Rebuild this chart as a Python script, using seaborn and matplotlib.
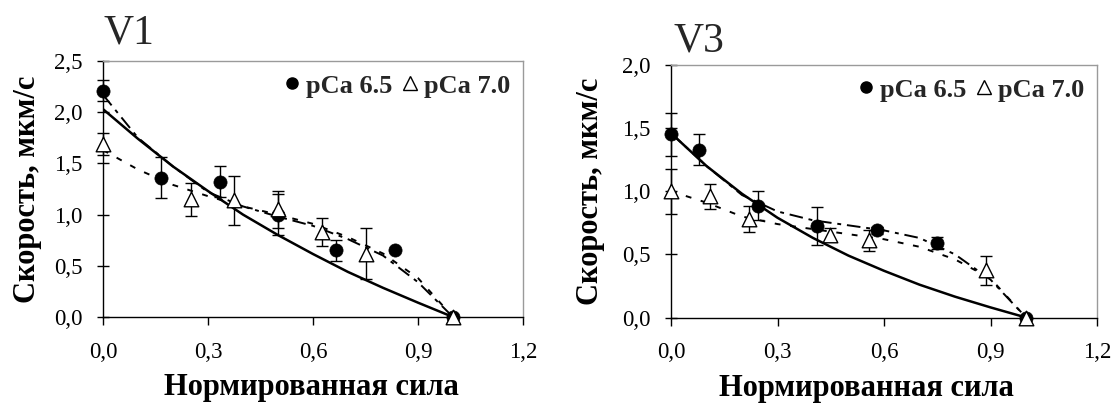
import numpy as np
import pandas as pd
import matplotlib
matplotlib.use("Agg")
import matplotlib.pyplot as plt
from matplotlib.ticker import FuncFormatter, MultipleLocator
from matplotlib.lines import Line2D
import seaborn as sns

# ---------------- data ----------------
# V1
v1_x65 = [0.0, 0.167, 0.333, 0.5, 0.667, 0.833, 1.0]
v1_y65 = [2.21, 1.36, 1.32, 1.00, 0.65, 0.65, 0.0]
v1_e65 = [0.10, 0.20, 0.15, 0.20, 0.10, 0.0, 0.0]
v1_x70 = [0.0, 0.25, 0.375, 0.5, 0.625, 0.75, 1.0]
v1_y70 = [1.69, 1.15, 1.14, 1.05, 0.83, 0.62, 0.0]
v1_e70 = [0.11, 0.16, 0.24, 0.18, 0.14, 0.25, 0.0]
v1_cx = [0.0, 0.1, 0.2, 0.3, 0.4, 0.5, 0.6, 0.7, 0.8, 0.9, 1.0]
v1_solid = [2.03, 1.74, 1.47, 1.23, 1.00, 0.80, 0.615, 0.44, 0.285, 0.14, 0.0]
v1_dash65 = [2.17, 1.75, 1.47, 1.22, 1.08, 0.98, 0.89, 0.76, 0.60, 0.34, 0.0]
v1_dash70 = [1.63, 1.44, 1.29, 1.18, 1.08, 1.00, 0.91, 0.78, 0.62, 0.38, 0.0]

# V3
v3_x65 = [0.0, 0.08, 0.246, 0.412, 0.58, 0.75, 1.0]
v3_y65 = [1.45, 1.33, 0.886, 0.727, 0.69, 0.59, 0.0]
v3_e65 = [0.17, 0.12, 0.115, 0.15, 0.03, 0.05, 0.0]
v3_x70 = [0.0, 0.11, 0.22, 0.447, 0.557, 0.888, 1.0]
v3_y70 = [1.00, 0.96, 0.78, 0.655, 0.61, 0.376, 0.0]
v3_e70 = [0.18, 0.10, 0.10, 0.05, 0.08, 0.115, 0.0]
v3_cx = [0.0, 0.1, 0.2, 0.3, 0.4, 0.5, 0.6, 0.7, 0.8, 0.9, 1.0]
v3_solid = [1.46, 1.20, 0.98, 0.79, 0.63, 0.49, 0.37, 0.26, 0.165, 0.08, 0.0]
v3_dash65 = [1.46, 1.20, 0.97, 0.84, 0.77, 0.73, 0.69, 0.63, 0.50, 0.30, 0.0]
v3_dash70 = [1.00, 0.91, 0.80, 0.74, 0.70, 0.66, 0.62, 0.56, 0.46, 0.31, 0.0]

titles = ["V1", "V3"]
xticks = [0.0, 0.3, 0.6, 0.9, 1.2]
xlabel = "Нормированная сила"
ylabel = "Скорость, мкм/с"
leg_labels = ["pCa 6.5", "pCa 7.0"]

# ---------------- style ----------------
sns.set_style("ticks")
plt.rcParams['font.family'] = ['Liberation Serif', 'DejaVu Serif']

W, H = 1114, 403
fig = plt.figure(figsize=(W / 100, H / 100), dpi=100)
ax1 = fig.add_axes([103 / W, 1 - 317 / H, 420 / W, 256 / H])
ax2 = fig.add_axes([671 / W, 1 - 317.5 / H, 426 / W, 252.5 / H])

panels = [
    (ax1, v1_x65, v1_y65, v1_e65, v1_x70, v1_y70, v1_e70, v1_cx, v1_solid, v1_dash65, v1_dash70, 2.5),
    (ax2, v3_x65, v3_y65, v3_e65, v3_x70, v3_y70, v3_e70, v3_cx, v3_solid, v3_dash65, v3_dash70, 2.0),
]

fmt = FuncFormatter(lambda v, p: f"{v:.1f}".replace('.', ','))

for i, (ax, x65, y65, e65, x70, y70, e70, cx, solid, d65, d70, ymax) in enumerate(panels):
    sns.lineplot(x=cx, y=solid, ax=ax, color='black', lw=1.8, sort=False, estimator=None, zorder=2)
    sns.lineplot(x=cx, y=d65, ax=ax, color='black', lw=1.4, sort=False, estimator=None,
                 linestyle=(0, (7, 3, 2, 3)), zorder=2)
    sns.lineplot(x=cx, y=d70, ax=ax, color='black', lw=1.4, sort=False, estimator=None,
                 linestyle=(0, (3, 5)), zorder=2)
    ax.errorbar(x65, y65, yerr=e65, fmt='none', ecolor='black', elinewidth=1.0,
                capsize=4, capthick=1.0, zorder=3, clip_on=False)
    ax.errorbar(x70, y70, yerr=e70, fmt='none', ecolor='black', elinewidth=1.0,
                capsize=4, capthick=1.0, zorder=3, clip_on=False)
    sns.scatterplot(x=x65, y=y65, ax=ax, marker='o', s=90, color='black',
                    edgecolor='black', linewidth=0.5, zorder=4, clip_on=False)
    sns.scatterplot(x=x70, y=y70, ax=ax, marker='^', s=110, facecolor='white',
                    edgecolor='black', linewidth=1.0, zorder=5, clip_on=False)

    ax.set_xlim(0, 1.2)
    ax.set_ylim(0, ymax)
    ax.xaxis.set_major_locator(MultipleLocator(0.3))
    ax.yaxis.set_major_locator(MultipleLocator(0.5))
    ax.xaxis.set_major_formatter(fmt)
    ax.yaxis.set_major_formatter(fmt)
    ax.tick_params(axis='x', direction='out', length=6, width=1, pad=12,
                   labelsize=16.5, colors='black')
    ax.tick_params(axis='y', direction='inout', length=9, width=1, pad=10,
                   labelsize=16.5, colors='black')
    for s in ['left', 'bottom']:
        ax.spines[s].set_color('black')
        ax.spines[s].set_linewidth(1.0)
    for s in ['top', 'right']:
        ax.spines[s].set_color('#9a9a9a')
        ax.spines[s].set_linewidth(1.0)
    ax.set_facecolor('white')

    ax.set_xlabel(xlabel, fontsize=22, fontweight='bold', color='black')
    ax.set_ylabel(ylabel, fontsize=22, fontweight='bold', color='black')

    handles = [
        Line2D([], [], marker='o', color='black', linestyle='none', markersize=8),
        Line2D([], [], marker='^', markerfacecolor='white', markeredgecolor='black',
               linestyle='none', markersize=10),
    ]
    ax.legend(handles, leg_labels, loc='upper right', ncol=2, frameon=False,
              prop={'family': ['Liberation Serif'], 'weight': 'bold', 'size': 19},
              handlelength=0.6, handletextpad=0.2, columnspacing=0.4,
              borderaxespad=0.1, bbox_to_anchor=(1.0, 1.0))

ax1.xaxis.set_label_coords(0.497, -0.218)
ax2.xaxis.set_label_coords(0.459, -0.222)
ax1.yaxis.set_label_coords(-0.145, 0.5)
ax2.yaxis.set_label_coords(-0.155, 0.5)

fig.text(104 / W, 1 - 43 / H, titles[0], fontsize=30, ha='left', va='baseline')
fig.text(673 / W, 1 - 51 / H, titles[1], fontsize=30, ha='left', va='baseline')

fig.savefig("out.png", dpi=100, facecolor='white')
